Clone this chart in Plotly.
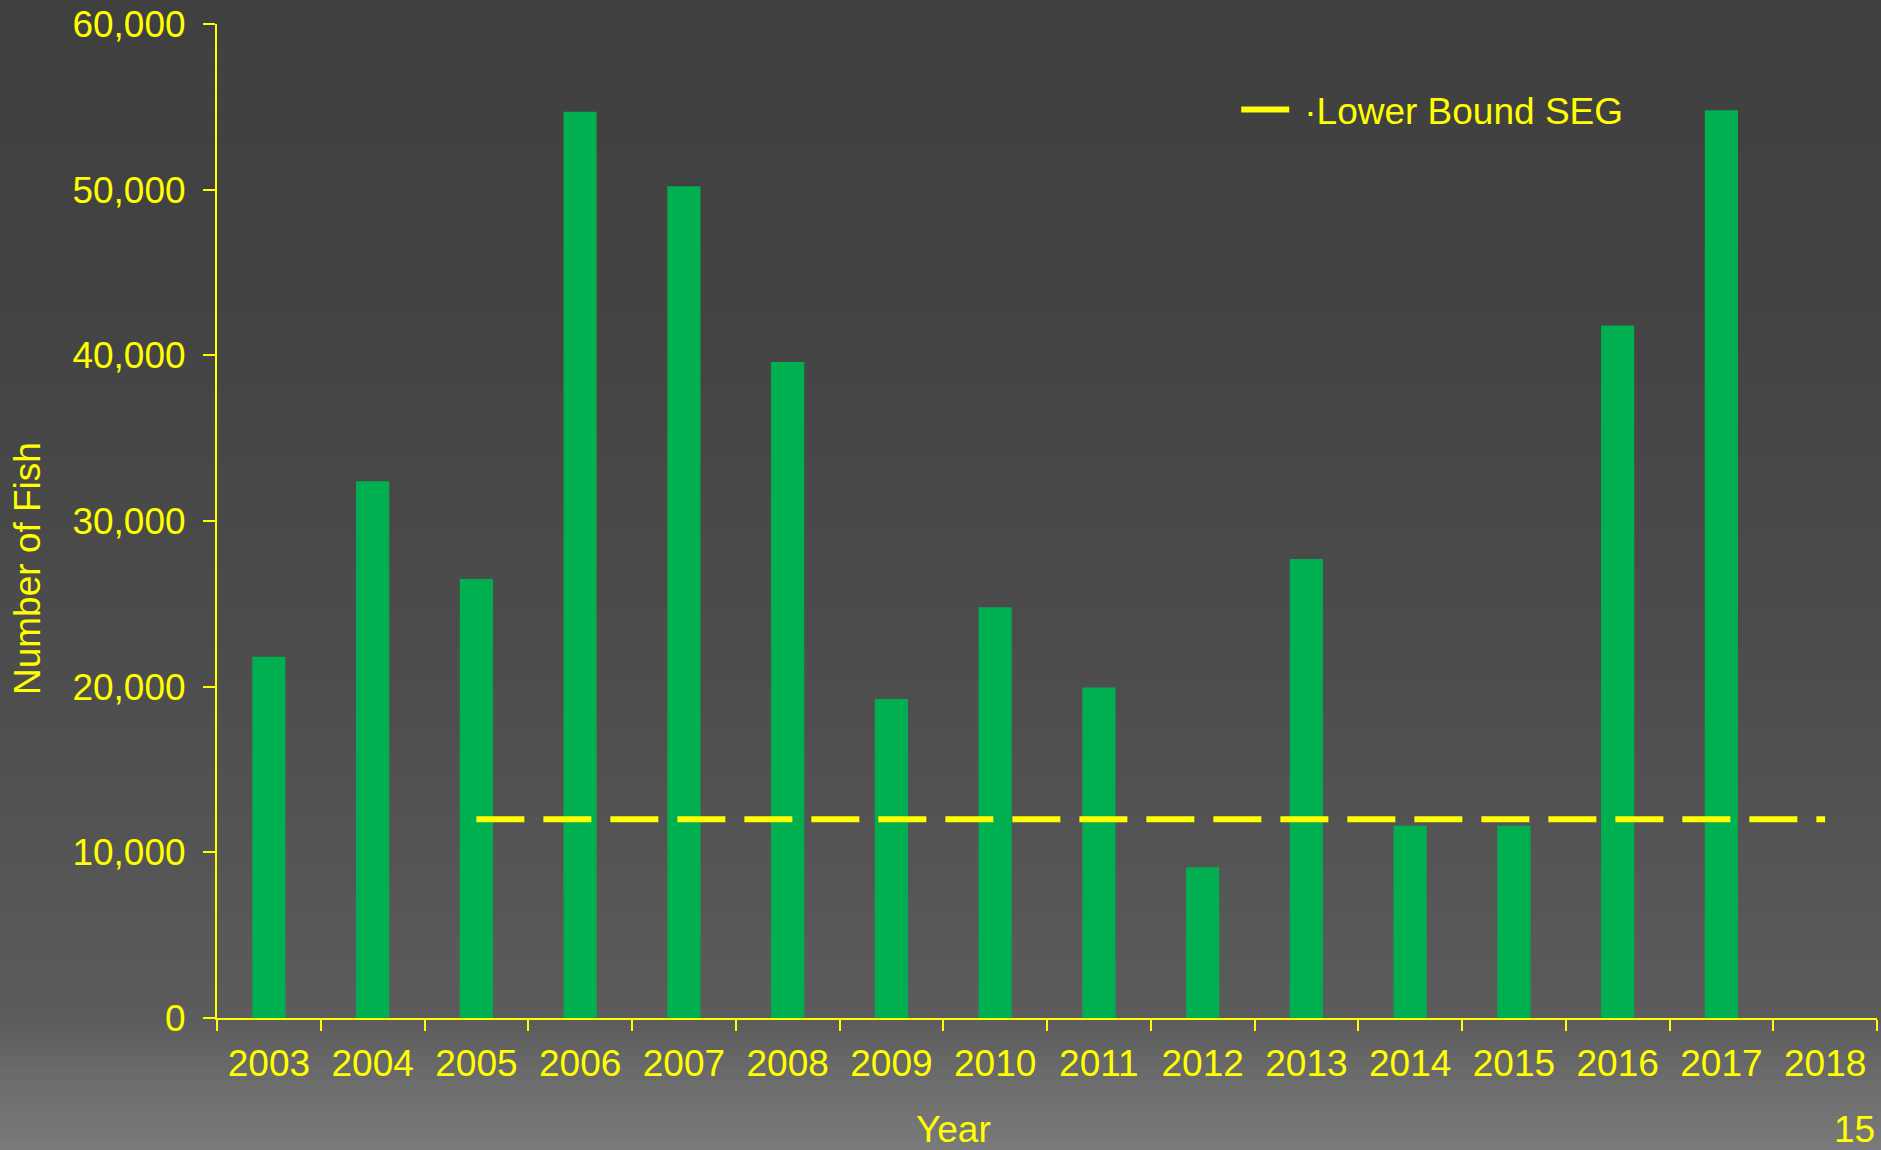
import plotly.graph_objects as go

years = ["2003", "2004", "2005", "2006", "2007", "2008", "2009", "2010",
         "2011", "2012", "2013", "2014", "2015", "2016", "2017", "2018"]
fish = [21800, 32400, 26500, 54700, 50200, 39600, 19250, 24800,
        19950, 9100, 27700, 11600, 11600, 41800, 54800, None]
seg_years = years[2:]
seg_values = [12000] * len(seg_years)

YELLOW = "#FFFF00"
GREEN = "#00B050"
FONT = "Liberation Sans, Arial, sans-serif"
FS = 37

W, H = 1881, 1150
L, R, T, B = 217, 4, 24, 132
plot_w = W - L - R
plot_h = H - T - B

fig = go.Figure()

fig.add_trace(go.Bar(
    x=years, y=fish, marker=dict(color=GREEN, line=dict(width=0)),
    showlegend=False, hoverinfo="x+y",
))

fig.add_trace(go.Scatter(
    x=seg_years, y=seg_values, mode="lines", name="\u00b7Lower Bound SEG",
    line=dict(color=YELLOW, width=6, dash="48px,19px"),
))

# vertical gray gradient background, drawn as thin bands
stops = [(0, 64), (300, 67), (700, 78), (1018, 92), (1080, 108), (1150, 122)]


def shade(py):
    for (y0, c0), (y1, c1) in zip(stops[:-1], stops[1:]):
        if y0 <= py <= y1:
            return c0 + (c1 - c0) * (py - y0) / (y1 - y0)
    return stops[-1][1]


shapes = []
step = 6
for py in range(0, H, step):
    g = int(round(shade(py + step / 2)))
    shapes.append(dict(
        type="rect", xref="paper", yref="paper", layer="below",
        x0=-L / plot_w - 0.01, x1=1 + R / plot_w + 0.01,
        y0=(T + plot_h - py - step - 0.5) / plot_h,
        y1=(T + plot_h - py + 0.5) / plot_h,
        fillcolor=f"rgb({g},{g},{g})", line=dict(width=0),
    ))

fig.update_layout(
    width=W, height=H,
    margin=dict(l=L, r=R, t=T, b=B),
    paper_bgcolor="rgb(80,80,80)",
    plot_bgcolor="rgba(0,0,0,0)",
    font=dict(family=FONT, size=FS, color=YELLOW),
    bargap=0.68,
    shapes=shapes,
    legend=dict(
        x=0.614, y=(H - B - 110) / plot_h, xanchor="left", yanchor="middle",
        bgcolor="rgba(0,0,0,0)", font=dict(size=FS, color=YELLOW),
        itemwidth=58,
    ),
    xaxis=dict(
        type="category", showline=True, linecolor=YELLOW, linewidth=2,
        ticks="outside", tickson="boundaries", ticklen=11, tickwidth=2,
        tickcolor=YELLOW, showgrid=False, zeroline=False,
        ticklabelstandoff=12,
        tickfont=dict(size=FS, color=YELLOW),
    ),
    yaxis=dict(
        range=[0, 60000], dtick=10000, tickformat=",", showline=True,
        linecolor=YELLOW, linewidth=2, ticks="outside", ticklen=12,
        tickwidth=2, tickcolor=YELLOW, showgrid=False, zeroline=False,
        ticklabelstandoff=10,
        tickfont=dict(size=FS, color=YELLOW),
    ),
    annotations=[
        dict(text="Year", xref="paper", yref="paper",
             x=(953 - L) / plot_w, y=(H - B - H) / plot_h, yshift=-2,
             xanchor="center", yanchor="bottom", showarrow=False,
             font=dict(size=FS, color=YELLOW)),
        dict(text="15", xref="paper", yref="paper",
             x=(1877 - L) / plot_w, y=(H - B - H) / plot_h, yshift=-2,
             xanchor="right", yanchor="bottom", showarrow=False,
             font=dict(size=FS, color=YELLOW)),
        dict(text="Number of Fish", xref="paper", yref="paper",
             x=(27 - L) / plot_w, y=(H - B - 569) / plot_h,
             xanchor="center", yanchor="middle", textangle=-90,
             showarrow=False, font=dict(size=FS, color=YELLOW)),
    ],
)

fig.write_html("out.html", config={"displayModeBar": False},
               post_script="document.body.style.margin='0';")
